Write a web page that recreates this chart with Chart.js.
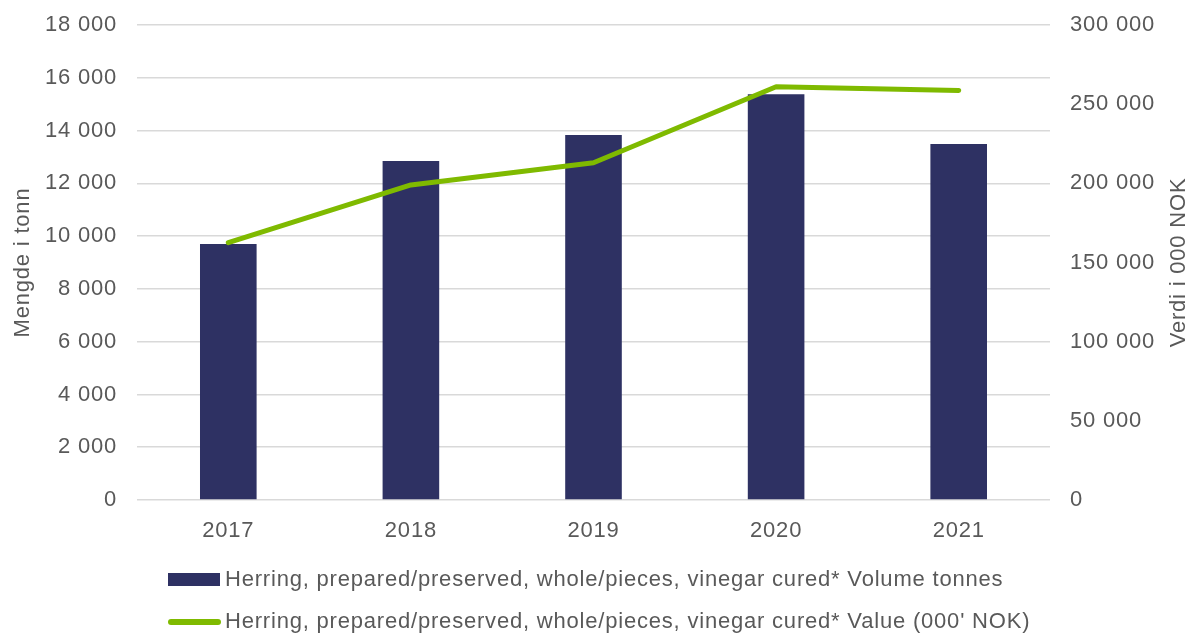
<!DOCTYPE html>
<html>
<head>
<meta charset="utf-8">
<script src="https://cdn.jsdelivr.net/npm/chart.js@4.4.1/dist/chart.umd.min.js"></script>
<style>
  html, body { margin: 0; padding: 0; background: #fff; }
  #wrap { width: 1192px; height: 634px; }
</style>
</head>
<body>
<div id="wrap"><canvas id="chart" width="1192" height="634"></canvas></div>
<script>
// data
var years = ['2017', '2018', '2019', '2020', '2021'];
var volumeTonnes = [9700, 12850, 13830, 15380, 13490];
var valueNok = [162500, 199000, 213000, 261000, 258700];
var volumeLabel = 'Herring, prepared/preserved, whole/pieces, vinegar cured* Volume tonnes';
var valueLabel = "Herring, prepared/preserved, whole/pieces, vinegar cured* Value (000' NOK)";

var FONT = '"Liberation Sans", Arial, sans-serif';
var SIZE = 22;
var TEXT = '#595959';
var NAVY = '#2e3163';
var GREEN = '#7fba00';

// space separated thousands, like 18 000
function fmt(v) {
    return String(v).replace(/\B(?=(\d{3})+(?!\d))/g, ' ');
}

// the original text is set a bit wider than plain Arial
var spacing = {
    id: 'spacing',
    beforeDraw: function (chart) { chart.ctx.letterSpacing = '0.8px'; }
};

// right axis title reads bottom-to-top, plus the legend rows
var extras = {
    id: 'extras',
    afterDraw: function (chart) {
        var ctx = chart.ctx;
        var area = chart.chartArea;
        ctx.save();
        ctx.fillStyle = TEXT;
        ctx.font = SIZE + 'px ' + FONT;
        ctx.textAlign = 'center';
        ctx.textBaseline = 'middle';
        ctx.translate(1179, (area.top + area.bottom) / 2);
        ctx.rotate(-Math.PI / 2);
        ctx.fillText('Verdi i 000 NOK', 0, 0);
        ctx.restore();

        // legend
        ctx.save();
        ctx.font = SIZE + 'px ' + FONT;
        ctx.textBaseline = 'middle';
        ctx.textAlign = 'left';
        ctx.fillStyle = NAVY;
        ctx.fillRect(168, 573, 52, 13);
        ctx.fillStyle = TEXT;
        ctx.fillText(volumeLabel, 225, 580);

        ctx.strokeStyle = GREEN;
        ctx.lineWidth = 6;
        ctx.lineCap = 'round';
        ctx.beginPath();
        ctx.moveTo(171, 622);
        ctx.lineTo(218, 622);
        ctx.stroke();
        ctx.fillText(valueLabel, 225, 622);
        ctx.restore();
    }
};

function fitY(width) {
    return function (s) {
        s.width = width;
        s.paddingTop = 25;
        s.paddingBottom = 0;
    };
}

new Chart(document.getElementById('chart').getContext('2d'), {
    data: {
        labels: years,
        datasets: [
            {
                type: 'line',
                label: valueLabel,
                data: valueNok,
                yAxisID: 'y1',
                borderColor: GREEN,
                borderWidth: 5,
                borderCapStyle: 'round',
                borderJoinStyle: 'round',
                pointRadius: 0,
                tension: 0,
                order: 0
            },
            {
                type: 'bar',
                label: volumeLabel,
                data: volumeTonnes,
                yAxisID: 'y',
                backgroundColor: NAVY,
                barPercentage: 0.31,
                categoryPercentage: 1,
                order: 1
            }
        ]
    },
    options: {
        responsive: false,
        animation: false,
        layout: { padding: 0 },
        plugins: {
            legend: { display: false },
            tooltip: { enabled: false }
        },
        scales: {
            x: {
                grid: { display: false },
                border: { display: false },
                ticks: { color: TEXT, font: { family: FONT, size: SIZE }, padding: 10 },
                afterFit: function (s) { s.height = 134; }
            },
            y: {
                position: 'left',
                min: 0,
                max: 18000,
                ticks: {
                    stepSize: 2000,
                    color: TEXT,
                    font: { family: FONT, size: SIZE },
                    padding: 20,
                    callback: function (v) { return fmt(v); }
                },
                grid: { color: '#d9d9d9', lineWidth: 1.5, drawTicks: false },
                border: { display: false },
                title: {
                    display: true,
                    text: 'Mengde i tonn',
                    color: TEXT,
                    font: { family: FONT, size: SIZE },
                    padding: { top: 10, bottom: 0 }
                },
                afterFit: fitY(137)
            },
            y1: {
                position: 'right',
                min: 0,
                max: 300000,
                ticks: {
                    stepSize: 50000,
                    color: TEXT,
                    font: { family: FONT, size: SIZE },
                    padding: 20,
                    callback: function (v) { return fmt(v); }
                },
                grid: { drawOnChartArea: false, drawTicks: false },
                border: { display: false },
                afterFit: fitY(142)
            }
        }
    },
    plugins: [spacing, extras]
});
</script>
</body>
</html>
